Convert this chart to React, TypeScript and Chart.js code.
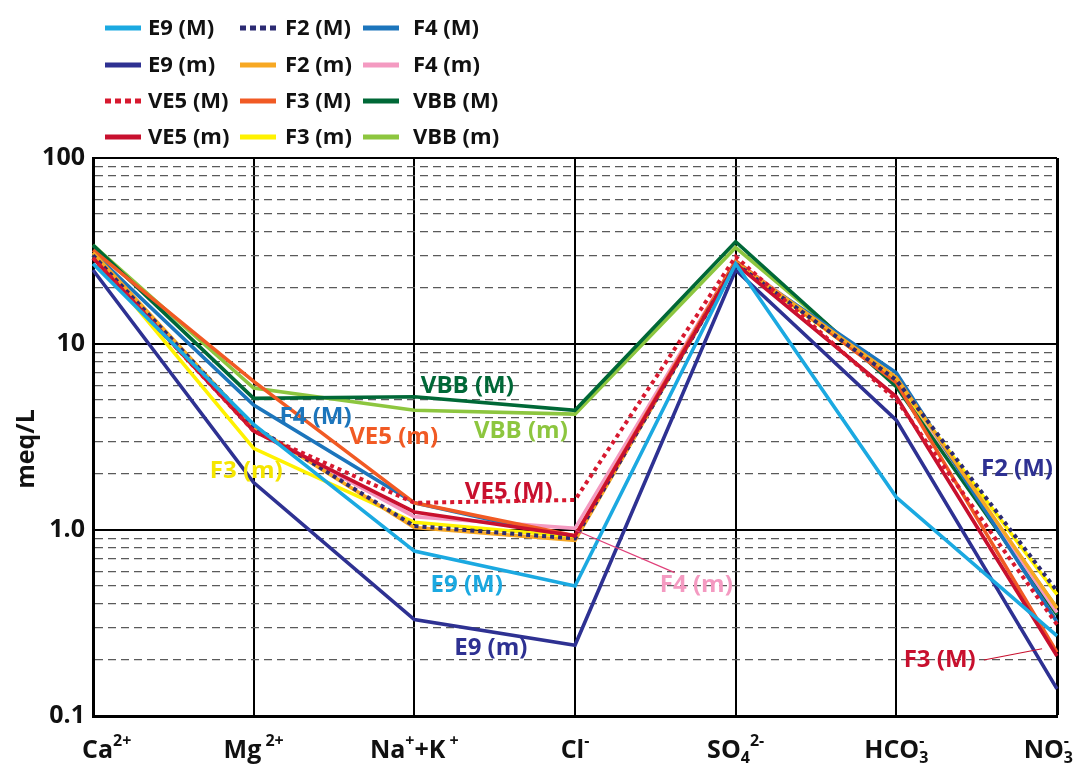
import React, { useEffect, useRef } from 'react';
import { Chart, registerables } from 'chart.js';

Chart.register(...registerables);

// ---------- data ----------
const categories = ['Ca2+', 'Mg2+', 'Na+K+', 'Cl-', 'SO42-', 'HCO3-', 'NO3-'];
const categoryLabels = ['Ca^{2+}', 'Mg^{ 2+}', 'Na^{+}+K^{ +}', 'Cl^{-}', 'SO_{4}^{2-}', 'HCO_{3}^{-}', 'NO_{3}^{-}'];

const seriesNames = ['E9 (M)', 'E9 (m)', 'VE5 (M)', 'VE5 (m)', 'F2 (M)', 'F2 (m)', 'F3 (M)', 'F3 (m)', 'F4 (M)', 'F4 (m)', 'VBB (M)', 'VBB (m)'];
const seriesColors = ['#1ba9e1', '#2e3192', '#d7192f', '#c8102e', '#2b2a72', '#f7a823', '#f15a24', '#fff200', '#1c75bc', '#f49ac1', '#006837', '#8dc63f'];
const seriesDotted = [false, false, true, false, true, false, false, false, false, false, false, false];

const e9M = [27, 3.7, 0.77, 0.5, 27, 1.5, 0.27];
const e9m = [25, 1.8, 0.33, 0.24, 25, 3.9, 0.14];
const ve5M = [29, 3.4, 1.4, 1.45, 29.5, 5.0, 0.31];
const ve5m = [29, 3.4, 1.25, 0.93, 27, 5.2, 0.21];
const f2M = [30, 3.6, 1.05, 0.9, 27, 6.4, 0.47];
const f2m = [31, 3.6, 1.03, 0.88, 27.5, 6.6, 0.38];
const f3M = [32, 6.3, 1.4, 0.93, 28, 6.2, 0.22];
const f3m = [30, 2.75, 1.1, 0.92, 27, 6.3, 0.45];
const f4M = [31, 4.7, 1.4, 0.9, 27, 7.0, 0.32];
const f4m = [30, 3.5, 1.18, 1.02, 28, 6.5, 0.36];
const vbbM = [34, 5.1, 5.2, 4.4, 35.5, 5.9, 0.35];
const vbbm = [34, 5.8, 4.4, 4.2, 33, 6.2, 0.38];
const seriesValues = [e9M, e9m, ve5M, ve5m, f2M, f2m, f3M, f3m, f4M, f4m, vbbM, vbbm];

const yMajorTicks = [0.1, 1, 10, 100];
const yMajorLabels = ['0.1', '1.0', '10', '100'];
const yMinorMultipliers = [2, 3, 4, 5, 6, 7, 8, 9];
const yTitle = 'meq/L';

// in-chart labels (x = category index position, y = value)
const annoText = ['VBB (M)', 'F4 (M)', 'VE5 (m)', 'VBB (m)', 'F3 (m)', 'VE5 (M)', 'E9 (M)', 'F4 (m)', 'E9 (m)', 'F2 (M)', 'F3 (M)'];
const annoX = [2.33, 1.385, 1.871, 2.663, 0.954, 2.588, 2.326, 3.755, 2.476, 5.751, 5.27];
const annoY = [5.95, 4.05, 3.16, 3.41, 2.08, 1.6, 0.506, 0.506, 0.232, 2.13, 0.2];
const annoColor = ['#006837', '#1c75bc', '#f15a24', '#8dc63f', '#f5e600', '#c8102e', '#1ba9e1', '#f49ac1', '#2e3192', '#2e3192', '#c8102e'];

const leaderX1 = [3.0, 5.545];
const leaderY1 = [1.0, 0.2];
const leaderX2 = [3.62, 5.907];
const leaderY2 = [0.59, 0.23];
const leaderColor = ['#e0407a', '#c8102e'];

const FONT = "'Open Sans', 'Liberation Sans', sans-serif";

function parseLabel(s: string) {
  const re = /(\^|_)\{([^}]*)\}|([^^_]+)/g;
  const out: { t: string; k: string }[] = [];
  let m: RegExpExecArray | null;
  while ((m = re.exec(s))) {
    if (m[3] !== undefined) out.push({ t: m[3], k: 'n' });
    else out.push({ t: m[2], k: m[1] === '^' ? 'sup' : 'sub' });
  }
  return out;
}

export default function App() {
  const ref = useRef<HTMLCanvasElement>(null);

  useEffect(() => {
    const canvas = ref.current;
    if (!canvas) return;

    const isMajor = (v: number) => yMajorTicks.some((m) => Math.abs(m - v) < 1e-9);
    const yTickValues: number[] = [];
    yMajorTicks.forEach((m, i) => {
      yTickValues.push(m);
      if (i < yMajorTicks.length - 1) yMinorMultipliers.forEach((k) => yTickValues.push(+(m * k).toPrecision(6)));
    });

    const datasets = seriesNames.map((name, i) => ({
      label: name,
      data: seriesValues[i],
      borderColor: seriesColors[i],
      backgroundColor: seriesColors[i],
      borderWidth: seriesDotted[i] ? 4 : 3.6,
      borderDash: seriesDotted[i] ? [4, 4] : [],
      pointRadius: 0,
      fill: false,
      tension: 0,
    }));

    const custom = {
      id: 'custom',
      afterDatasetsDraw(chart: any) {
        const ctx = chart.ctx;
        const xs = chart.scales.x;
        const ys = chart.scales.y;
        ctx.save();
        leaderX1.forEach((_, i) => {
          ctx.strokeStyle = leaderColor[i];
          ctx.lineWidth = 1.2;
          ctx.beginPath();
          ctx.moveTo(xs.getPixelForValue(leaderX1[i]), ys.getPixelForValue(leaderY1[i]));
          ctx.lineTo(xs.getPixelForValue(leaderX2[i]), ys.getPixelForValue(leaderY2[i]));
          ctx.stroke();
        });
        ctx.font = `bold 24px ${FONT}`;
        ctx.textAlign = 'center';
        ctx.textBaseline = 'middle';
        annoText.forEach((t, i) => {
          ctx.fillStyle = annoColor[i];
          ctx.fillText(t, xs.getPixelForValue(annoX[i]), ys.getPixelForValue(annoY[i]));
        });
        ctx.restore();
      },
      afterDraw(chart: any) {
        const ctx = chart.ctx;
        const xs = chart.scales.x;
        ctx.save();
        // legend
        const colLineX = [105, 240, 363];
        const colTextX = [148, 285, 413];
        const rowY = [28, 65, 101, 137];
        chart.data.datasets.forEach((ds: any, i: number) => {
          const col = Math.floor(i / 4);
          const row = i % 4;
          const y = rowY[row];
          ctx.strokeStyle = ds.borderColor;
          ctx.lineWidth = 5;
          ctx.lineCap = 'butt';
          ctx.setLineDash(seriesDotted[i] ? [6, 4] : []);
          ctx.beginPath();
          ctx.moveTo(colLineX[col], y);
          ctx.lineTo(colLineX[col] + 36, y);
          ctx.stroke();
          ctx.setLineDash([]);
          ctx.fillStyle = '#111';
          ctx.font = `bold 22px ${FONT}`;
          ctx.textAlign = 'left';
          ctx.textBaseline = 'middle';
          ctx.fillText(ds.label, colTextX[col], y + 1);
        });

        // x labels with super/subscripts
        const mainFont = `bold 25px ${FONT}`;
        const smallFont = `bold 16px ${FONT}`;
        const baseY = 758;
        categoryLabels.forEach((lab, i) => {
          const segs = parseLabel(lab);
          const pos: { x: number; w: number }[] = [];
          let x = 0;
          let total = 0;
          segs.forEach((s, j) => {
            ctx.font = s.k === 'n' ? mainFont : smallFont;
            const w = ctx.measureText(s.t).width;
            let sx = x;
            const prev = segs[j - 1];
            if (s.k === 'sup' && prev && prev.k === 'sub' && s.t.trim() === '-') {
              sx = pos[j - 1].x;
              x = Math.max(x, sx + w);
            } else {
              x = sx + w;
            }
            pos.push({ x: sx, w });
            total = Math.max(total, x);
          });
          const cx = xs.getPixelForValue(i);
          let start = cx - total / 2;
          start = Math.max(82, Math.min(start, 1073 - total));
          ctx.fillStyle = '#111';
          ctx.textAlign = 'left';
          ctx.textBaseline = 'alphabetic';
          segs.forEach((s, j) => {
            ctx.font = s.k === 'n' ? mainFont : smallFont;
            const dy = s.k === 'sup' ? -12 : s.k === 'sub' ? 5 : 0;
            ctx.fillText(s.t, start + pos[j].x, baseY + dy);
          });
        });

        // y title
        ctx.translate(27, 449);
        ctx.rotate(-Math.PI / 2);
        ctx.font = `bold 25px ${FONT}`;
        ctx.fillStyle = '#111';
        ctx.textAlign = 'center';
        ctx.textBaseline = 'middle';
        ctx.fillText(yTitle, 0, 0);
        ctx.restore();
      },
    };

    const chart = new Chart(canvas, {
      type: 'line',
      data: { labels: categories, datasets },
      options: {
        responsive: false,
        animation: false,
        events: [],
        layout: { padding: { top: 158, bottom: 48, left: 0, right: 18 } },
        plugins: { legend: { display: false }, tooltip: { enabled: false } },
        elements: { point: { radius: 0 }, line: { tension: 0 } },
        scales: {
          x: {
            type: 'category',
            offset: false,
            ticks: { display: false },
            grid: {
              offset: false,
              drawTicks: false,
              color: '#000',
              lineWidth: (c: any) => (c.index === categories.length - 1 ? 3 : 2),
            },
            border: { display: true, color: '#000', width: 3 },
            afterFit: (s: any) => {
              s.height = 0;
            },
          },
          y: {
            type: 'logarithmic',
            min: 0.1,
            max: 100,
            afterBuildTicks: (s: any) => {
              s.ticks = yTickValues.map((v) => ({ value: v, major: isMajor(v) }));
            },
            afterFit: (s: any) => {
              s.width = 93;
            },
            ticks: {
              autoSkip: false,
              padding: 8,
              color: '#111',
              font: { family: FONT, size: 25, weight: 'bold' },
              callback: (v: any) => {
                const idx = yMajorTicks.findIndex((m) => Math.abs(m - Number(v)) < 1e-9);
                return idx >= 0 ? yMajorLabels[idx] : '';
              },
            },
            grid: {
              drawTicks: false,
              color: (c: any) => (c.tick && !isMajor(c.tick.value) ? '#5a5a5a' : '#000'),
              lineWidth: (c: any) => (c.tick && !isMajor(c.tick.value) ? 1.3 : 2),
            },
            border: {
              display: true,
              color: '#000',
              width: 3,
              dash: (c: any) => (c.tick && !isMajor(c.tick.value) ? [8, 5] : []),
            },
          },
        },
      } as any,
      plugins: [custom],
    });

    return () => chart.destroy();
  }, []);

  return (
    <div style={{ position: 'absolute', left: 0, top: 0, width: 1075, height: 764, background: '#fff' }}>
      <canvas ref={ref} width={1075} height={764} style={{ display: 'block' }} />
    </div>
  );
}
